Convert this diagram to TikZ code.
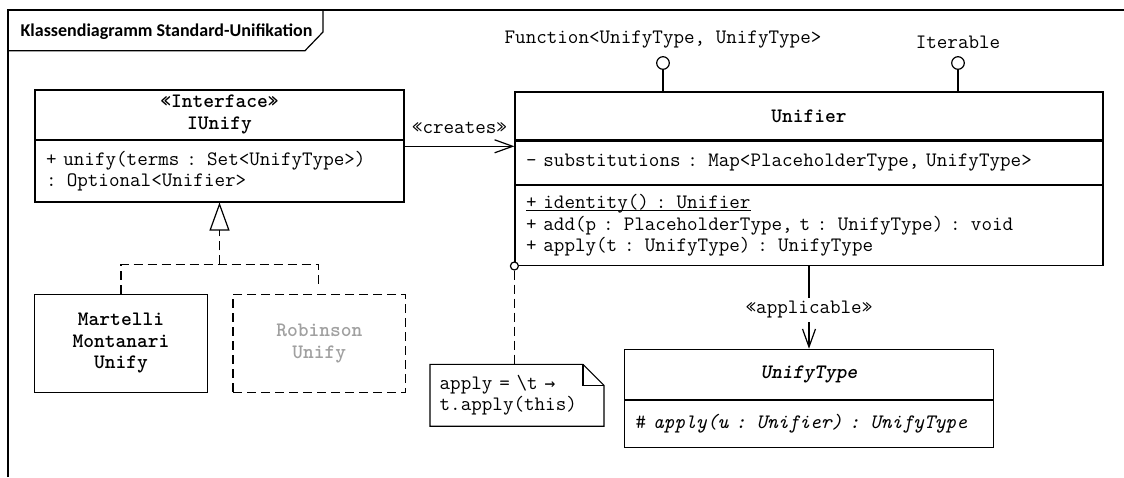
\documentclass[tikz,border=0pt]{standalone}
\usepackage{fontspec}
\newfontfamily\titlefont{Carlito}
\newfontfamily\arrowfont{DejaVu Sans Mono}
\usetikzlibrary{positioning,arrows.meta}
\definecolor{grayedOut}{RGB}{160,160,160}
\newcommand{\umlsize}{\fontsize{20.5}{21.5}\selectfont}
\newcommand{\umlarrow}{{\arrowfont\fontsize{17.9}{21.5}\selectfont →}}
\newcommand{\classscope}[1]{\setbox0\hbox{#1}\rlap{\rule[-2.5pt]{\wd0}{1pt}}\box0}

\begin{document}
\begin{tikzpicture}[
        x=1pt, y=-1pt,
        line width=1.2pt,
        classname/.style={
            % The shape
            rectangle,
            inner sep=0pt,
            % The border
            draw = black,
            % Font
            font = \ttfamily\umlsize\bfseries,
            align = center
        },
        members/.style={
            % The shape
            rectangle,
            inner xsep=11pt,
            inner ysep=0pt,
            % The border
            draw = black,
            % Font
            font = \ttfamily\umlsize,
            align = left
        },
        implbox/.style={
            % The shape
            rectangle,
            minimum width=172.6pt,
            minimum height=98pt,
            % The border
            draw = black,
            % Font
            font = \ttfamily\umlsize\bfseries,
            align = center
        },
        note/.style={
            % The shape
            rectangle,
            inner xsep=9pt,
            % Font
            font = \ttfamily\umlsize,
            align = left
        },
        ball/.style={
            circle,
            draw = black,
            fill = white,
            inner sep=0pt,
            minimum size=12.6pt
        },
        anchorball/.style={
            circle,
            draw = black,
            fill = white,
            inner sep=0pt,
            minimum size=8pt
        },
        umllabel/.style={
            inner sep=0pt,
            font = \ttfamily\umlsize
        },
        assoc/.style={
            -{Straight Barb[length=18pt,width=13pt]}
        },
        realize/.style={
            dash pattern=on 9pt off 5pt
        }
    ]
        \path[use as bounding box, fill=white] (0,0) rectangle (1124,477);

        % frame with its name tab
        \node (frameTitle) [anchor=base west, inner sep=0pt,
            font=\titlefont\bfseries\fontsize{18}{20}\selectfont] at (20,36)
            {Klassendiagramm Standard-Unifikation};
        \draw (8,477) -- (8,10) -- (1124,10);
        \draw (8,50.7) -- (305,50.7) -- (323,32) -- (323,10);

        % the interface
        \node (iunifyName) [classname, minimum width=369pt, minimum height=49.3pt] at (219.5,114.65) {«Interface»\\IUnify};
        \node (iunifyOps) [members, text width=347pt, minimum height=61.4pt, below=0pt of iunifyName] {+ unify(terms : Set<UnifyType>)\\: Optional<Unifier>};

        % the unifier class
        \node (unifierName) [classname, minimum width=588pt, minimum height=48pt] at (809,116) {Unifier};
        \node (unifierAttrs) [members, text width=566pt, minimum height=43pt, below=0pt of unifierName] {- substitutions : Map<PlaceholderType, UnifyType>};
        \node (unifierOps) [members, text width=566pt, minimum height=80pt, below=0pt of unifierAttrs] {\classscope{+ identity() : Unifier}\\+ add(p : PlaceholderType, t : UnifyType) : void\\+ apply(t : UnifyType) : UnifyType};

        % provided interfaces
        \node (functionBall) [ball] at (663,63) {};
        \node (functionLabel) [umllabel, above=7pt of functionBall] {Function<UnifyType, UnifyType>};
        \path (functionBall) edge (functionBall |- unifierName.north);
        \node (iterableBall) [ball] at (958,63) {};
        \node (iterableLabel) [umllabel, above=7pt of iterableBall] {Iterable};
        \path (iterableBall) edge (iterableBall |- unifierName.north);

        % creates
        \coordinate (createsStart) at ([yshift=-6.4pt]iunifyOps.north east);
        \path (createsStart) edge[assoc] node[umllabel, above=12pt] {«creates»} (createsStart -| unifierAttrs.west);

        % the unify type
        \node (unifyTypeName) [classname, font=\ttfamily\umlsize\bfseries\itshape, minimum width=368.6pt, minimum height=50.3pt, below=82.7pt of unifierOps] {UnifyType};
        \node (unifyTypeOps) [members, text width=346.6pt, minimum height=46.7pt, below=0pt of unifyTypeName] {\# \textit{apply(u : Unifier) : UnifyType}};
        \path (unifierOps.south) edge[assoc] node[umllabel, pos=0.53, fill=white, inner sep=3.5pt] {«applicable»} (unifyTypeName.north);

        % implementations
        \node (martelli) [implbox] at (121,343.3) {Martelli\\Montanari\\Unify};
        \node (robinson) [implbox, realize, text=grayedOut, right=24.5pt of martelli] {Robinson\\Unify};
        \coordinate (realizeFork) at (219.5,264.3);
        \coordinate (robinsonStub) at (318.5,288);
        \path (realizeFork) edge[realize, -{Triangle[open,length=28pt,width=20pt]}] (iunifyOps.south);
        \draw[realize] (martelli.north) |- (realizeFork) -| (robinsonStub);

        % note on apply
        \node (applyNote) [note, minimum width=172.7pt, minimum height=60.7pt, text width=154.7pt] at (517,395.3) {apply = \textbackslash t \umlarrow\\t.apply(this)};
        \draw (applyNote.north west) -- ([xshift=-21pt]applyNote.north east) -- ([yshift=-21pt]applyNote.north east) -- (applyNote.south east) -- (applyNote.south west) -- cycle;
        \draw ([xshift=-21pt]applyNote.north east) |- ([yshift=-21pt]applyNote.north east);
        \node (noteAnchor) [anchorball] at (unifierOps.south west) {};
        \path (noteAnchor) edge[realize] (noteAnchor |- applyNote.north);

    \end{tikzpicture}
\end{document}
